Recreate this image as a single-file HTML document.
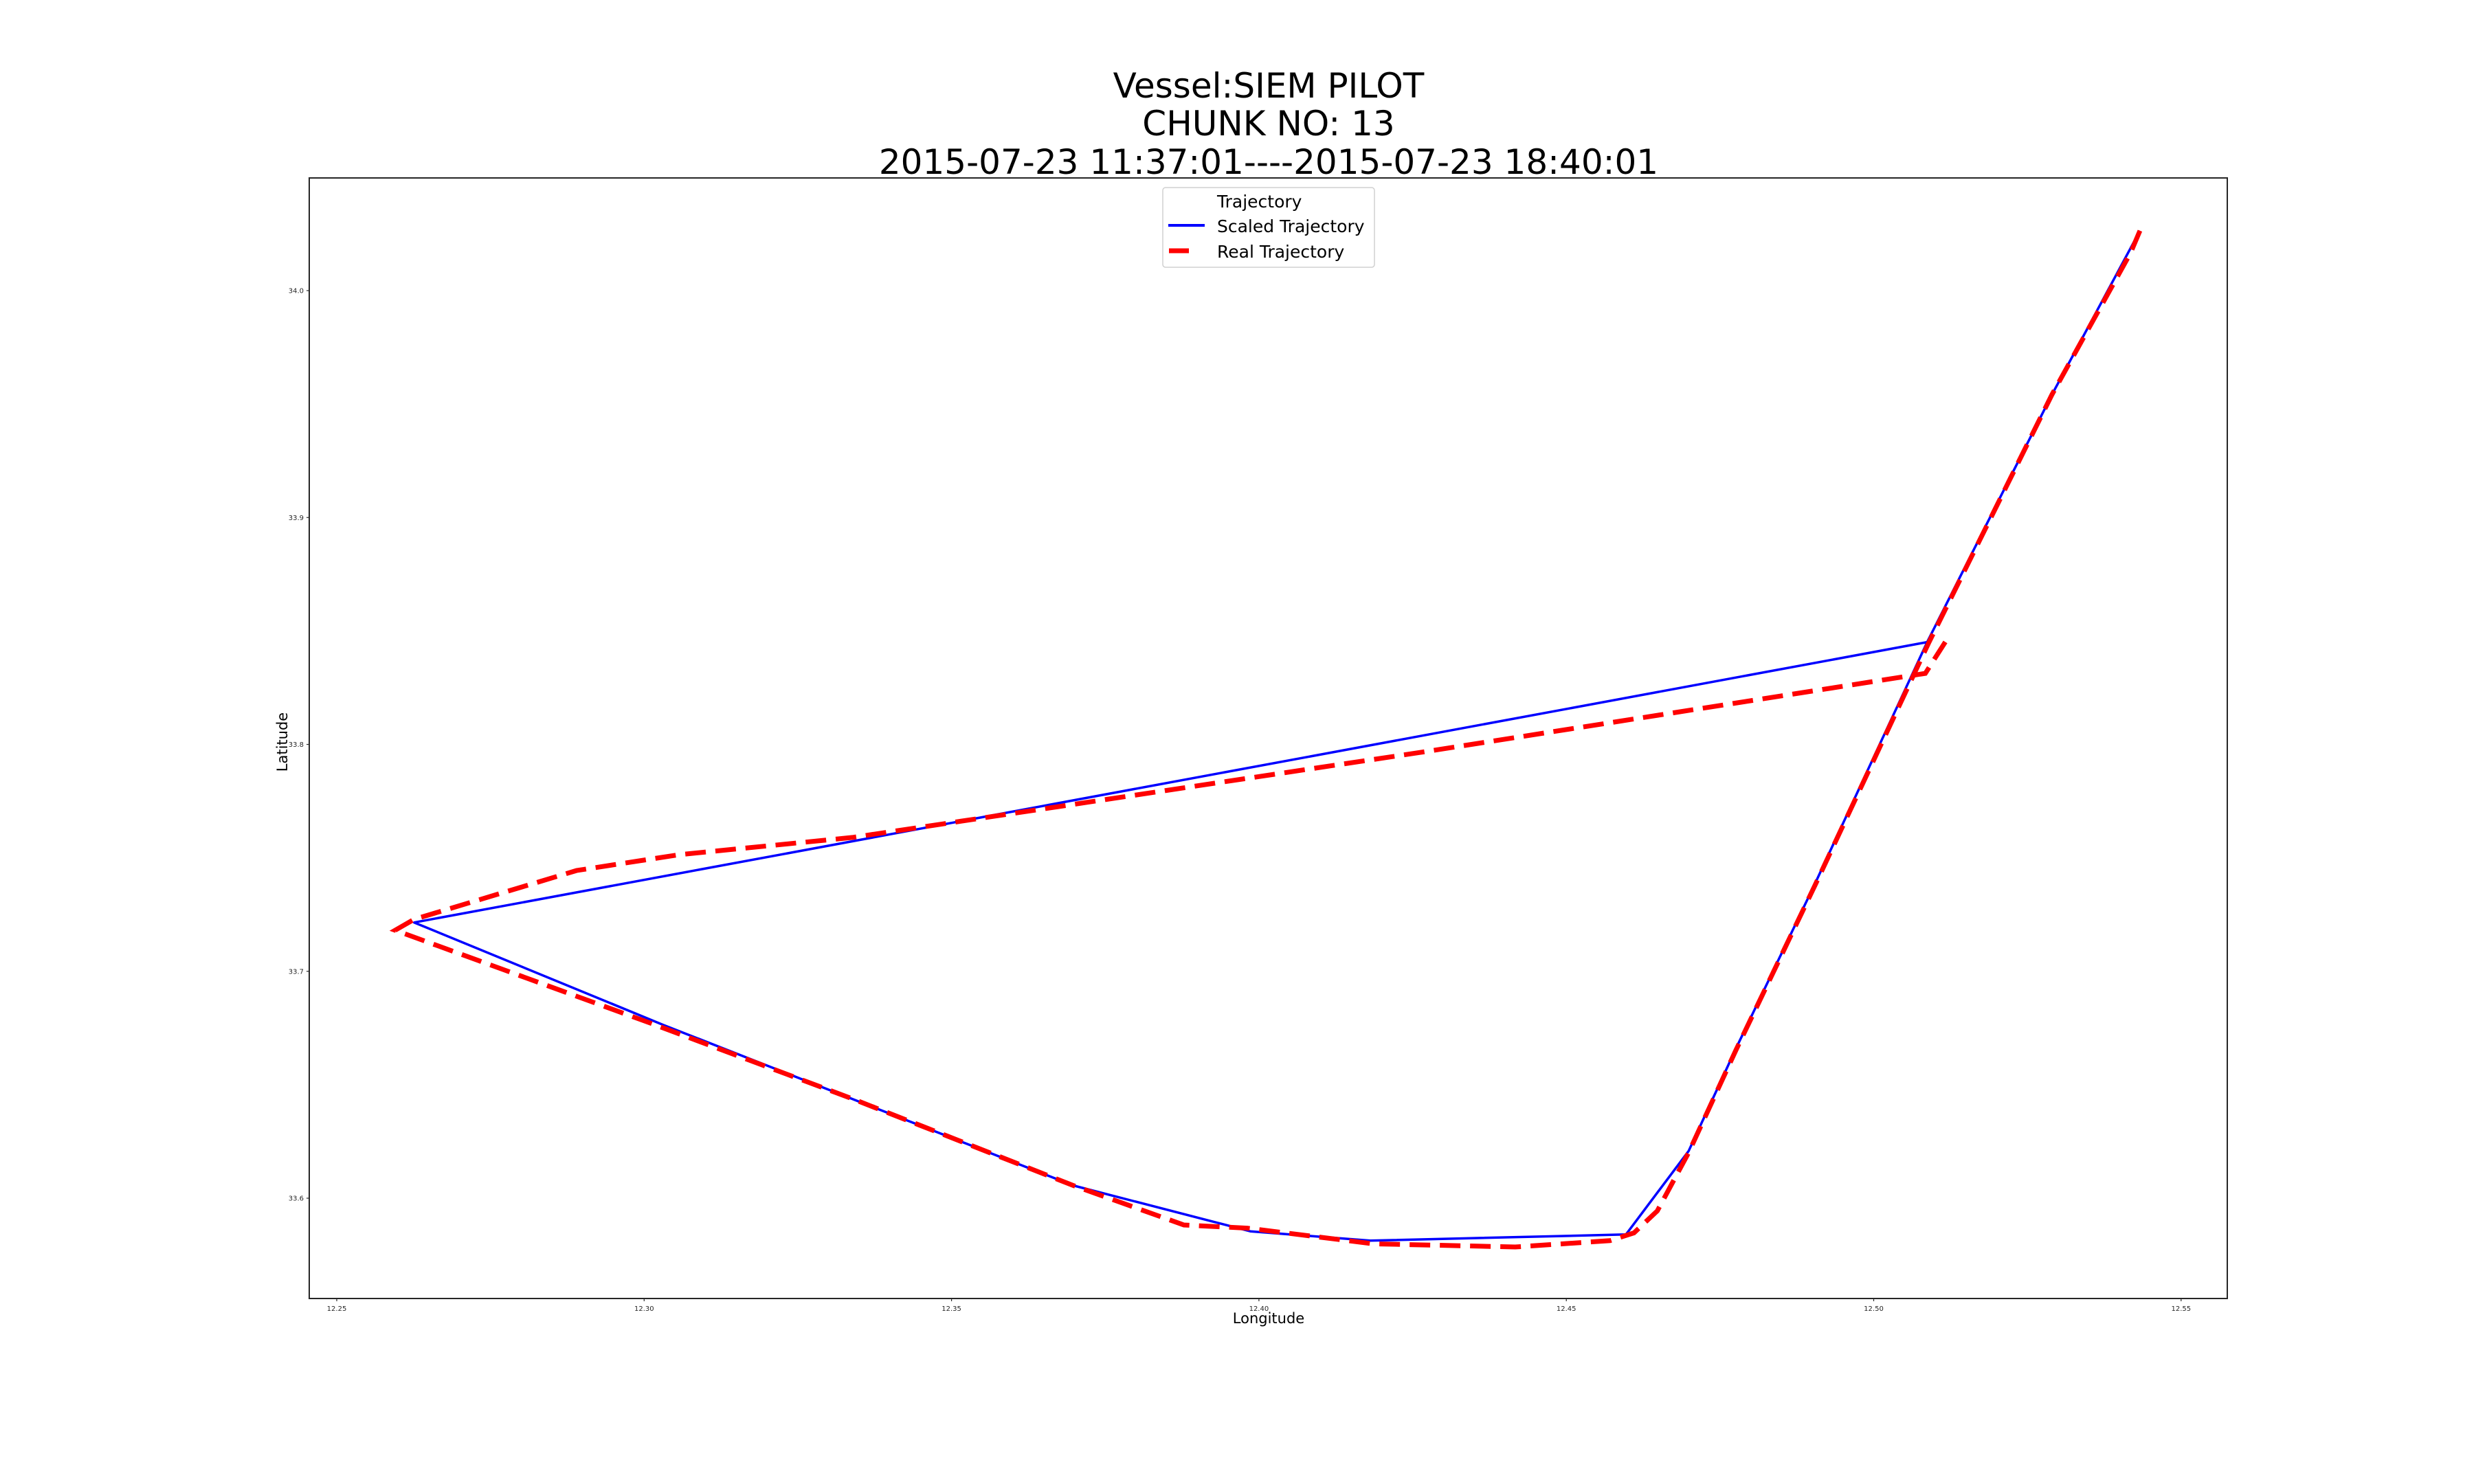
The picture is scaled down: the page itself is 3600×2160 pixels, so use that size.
<!DOCTYPE html>
<html><head><meta charset="utf-8"><style>
html,body{margin:0;padding:0;background:#fff;}
svg{display:block;font-family:"DejaVu Sans","Liberation Sans",sans-serif;}
</style></head><body>
<svg id="chart" width="3600" height="2160" viewBox="0 0 3600 2160" xmlns="http://www.w3.org/2000/svg">
<rect width="3600" height="2160" fill="#fff"/>
<g font-size="50" text-anchor="middle" fill="#000">
<text x="1846" y="142">Vessel:SIEM PILOT</text>
<text x="1846" y="197">CHUNK NO: 13</text>
<text x="1846" y="253">2015-07-23 11:37:01----2015-07-23 18:40:01</text>
</g>
<g id="ticks"></g>
<g id="series"></g>
<rect x="450" y="259" width="2791" height="1631" fill="none" stroke="#262626" stroke-width="2"/>
<text x="1846" y="1926" font-size="21" text-anchor="middle" fill="#000">Longitude</text>
<text x="0" y="0" font-size="21" text-anchor="middle" fill="#000" transform="translate(418,1080) rotate(-90)">Latitude</text>
<g>
<rect x="1692" y="273" width="308" height="116" rx="4" fill="#fff" stroke="#d0d0d0" stroke-width="1.5"/>
<text x="1771" y="302" font-size="25" fill="#000">Trajectory</text>
<line x1="1700" y1="328" x2="1753" y2="328" stroke="#0000ff" stroke-width="4"/>
<text x="1771" y="338" font-size="25" fill="#000">Scaled Trajectory</text>
<line x1="1701" y1="365" x2="1730" y2="365" stroke="#ff0000" stroke-width="7"/>
<text x="1771" y="375" font-size="25" fill="#000">Real Trajectory</text>
</g>
</svg>
<script>
const xTicks = [12.25, 12.30, 12.35, 12.40, 12.45, 12.50, 12.55];
const xTickLabels = ["12.25","12.30","12.35","12.40","12.45","12.50","12.55"];
const yTicks = [33.6, 33.7, 33.8, 33.9, 34.0];
const yTickLabels = ["33.6","33.7","33.8","33.9","34.0"];
const scaledLon = [12.5433,12.5290,12.5087,12.4905,12.4776,12.4699,12.4597,12.4181,12.3986,12.3698,12.3031,12.2626,12.5087];
const scaledLat = [34.0264,33.9542,33.8451,33.7389,33.6660,33.6208,33.5840,33.5813,33.5854,33.6056,33.6764,33.7215,33.8451];
const realLon = [12.5433,12.5418,12.5290,12.5089,12.4905,12.4776,12.4699,12.4648,12.4610,12.4571,12.4417,12.4186,12.3981,12.3878,12.3698,12.3339,12.3011,12.2595,12.2626,12.2890,12.3057,12.3339,12.4263,12.5084,12.5118];
const realLat = [34.0264,34.0167,33.9542,33.8445,33.7382,33.6653,33.6201,33.5944,33.5847,33.5813,33.5785,33.5799,33.5868,33.5882,33.6056,33.6438,33.6771,33.7181,33.7229,33.7444,33.7514,33.7590,33.7965,33.8313,33.8458];

const NS = "http://www.w3.org/2000/svg";
function xScale(v){ return 490 + (v - 12.25) * 8946; }
function yScale(v){ return 423 + (34.0 - v) * 3302.5; }

const tg = document.getElementById('ticks');
xTicks.forEach((t,i)=>{
  const x = xScale(t);
  const l = document.createElementNS(NS,'line');
  
  
  l.setAttribute('x1',x); l.setAttribute('x2',x); l.setAttribute('y1',1890); l.setAttribute('y2',1894);
  l.setAttribute('stroke','#262626'); l.setAttribute('stroke-width','1.2');
  tg.appendChild(l);
  const tx = document.createElementNS(NS,'text');
  
  
  tx.setAttribute('x',x); tx.setAttribute('y',1908); tx.setAttribute('font-size','10');
  tx.setAttribute('text-anchor','middle'); tx.setAttribute('fill','#262626');
  tx.textContent = xTickLabels[i];
  tg.appendChild(tx);
});
yTicks.forEach((t,i)=>{
  const y = yScale(t);
  const l = document.createElementNS(NS,'line');
  
  
  l.setAttribute('x1',446); l.setAttribute('x2',450); l.setAttribute('y1',y); l.setAttribute('y2',y);
  l.setAttribute('stroke','#262626'); l.setAttribute('stroke-width','1.2');
  tg.appendChild(l);
  const tx = document.createElementNS(NS,'text');
  
  
  tx.setAttribute('x',442); tx.setAttribute('y',y+3.5); tx.setAttribute('font-size','10');
  tx.setAttribute('text-anchor','end'); tx.setAttribute('fill','#262626');
  tx.textContent = yTickLabels[i];
  tg.appendChild(tx);
});

const sg = document.getElementById('series');
function pts(lon, lat){ return lon.map((v,i)=>xScale(v).toFixed(1)+','+yScale(lat[i]).toFixed(1)).join(' '); }
const blue = document.createElementNS(NS,'polyline');


blue.setAttribute('points', pts(scaledLon, scaledLat));
blue.setAttribute('fill','none'); blue.setAttribute('stroke','#0000ff'); blue.setAttribute('stroke-width','3.5');
blue.setAttribute('stroke-linejoin','round');
sg.appendChild(blue);
const red = document.createElementNS(NS,'polyline');


red.setAttribute('points', pts(realLon, realLat));
red.setAttribute('fill','none'); red.setAttribute('stroke','#ff0000'); red.setAttribute('stroke-width','7');
red.setAttribute('stroke-dasharray','30 14');
sg.appendChild(red);
</script>
</body></html>
